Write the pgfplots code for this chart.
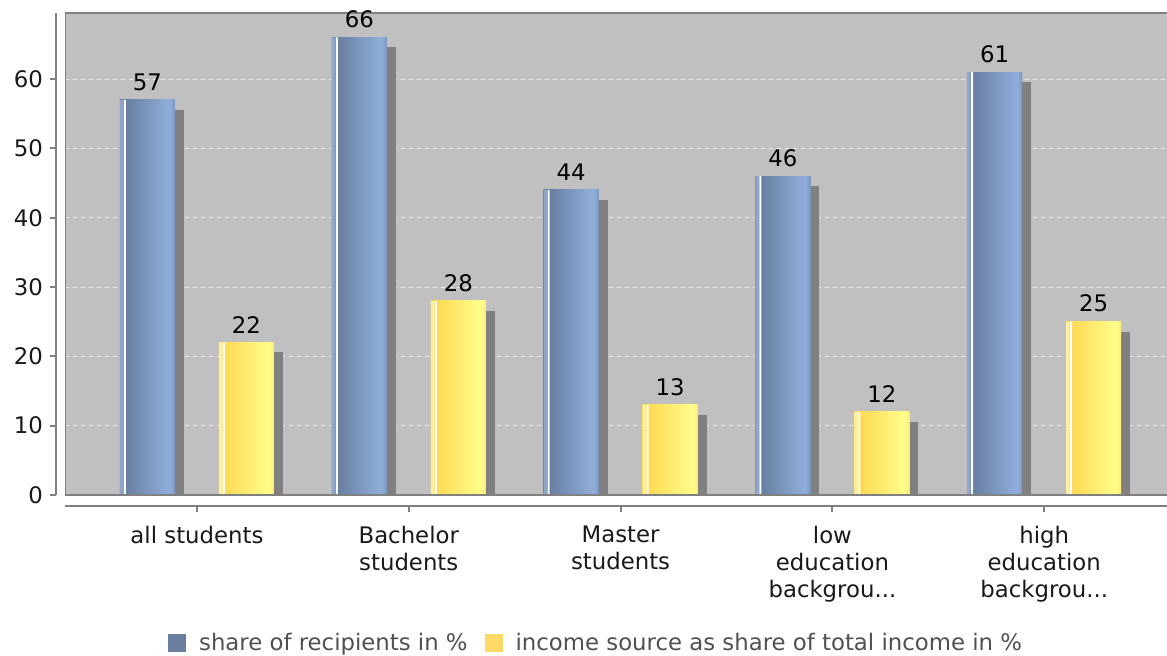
\documentclass[border=0pt]{standalone}
\usepackage{fontspec}
\setmainfont{DejaVu Sans}
\usepackage{pgfplots}
\usepackage{pgfplotstable}
\pgfplotsset{compat=1.18}
\definecolor{bgray}{HTML}{C0C0C0}
\definecolor{framec}{HTML}{808080}
\definecolor{shadowc}{HTML}{808080}
\definecolor{gridc}{HTML}{EAEAEA}
\definecolor{bdark}{HTML}{627899}
\definecolor{blight}{HTML}{8FACD8}
\definecolor{bedge}{HTML}{7A94BE}
\definecolor{bstrip}{HTML}{90A6C8}
\definecolor{ydark}{HTML}{FFD54C}
\definecolor{ylight}{HTML}{FFFB88}
\definecolor{yedge}{HTML}{FFEA70}
\definecolor{ystrip}{HTML}{FFEFA0}
\definecolor{legblue}{HTML}{6A7FA0}
\definecolor{legyellow}{HTML}{FFD966}
\definecolor{legtext}{HTML}{505050}
\pgfdeclarehorizontalshading{bluebar}{100bp}{color(0bp)=(bdark); color(25bp)=(bdark); color(68bp)=(blight); color(71bp)=(blight); color(75bp)=(bedge); color(100bp)=(bedge)}
\pgfdeclarehorizontalshading{yellowbar}{100bp}{color(0bp)=(ydark); color(25bp)=(ydark); color(68bp)=(ylight); color(71bp)=(ylight); color(75bp)=(yedge); color(100bp)=(yedge)}
\pgfplotstableread{
x recip income
0 57 22
1 66 28
2 44 13
3 46 12
4 61 25
}\datatable
\begin{document}
\begin{tikzpicture}
\useasboundingbox (0,0) rectangle (583.5pt,327.5pt);
\begin{axis}[
  at={(32.5pt,80pt)}, anchor=south west,
  scale only axis, width=552.5pt, height=241.25pt,
  xmin=-0.623, xmax=4.594, ymin=0, ymax=69.6,
  axis x line=bottom, axis y line=left,
  axis line style={-, draw=framec, line width=1pt},
  axis x line shift=5.5pt, axis y line shift=4.5pt,
  axis background/.style={fill=bgray},
  font=\fontsize{11.4}{13.5}\selectfont,
  /pgf/number format/assume math mode=true,
  grid style={gridc, dash pattern=on 2pt off 2pt, line width=0.5pt},
  ytick={0,10,...,60},
  extra y ticks={10,20,...,60}, extra y tick labels={},
  extra y tick style={grid=major, tick style={draw=none}},
  xtick={0,1,2,3,4},
  xticklabels={all students,{Bachelor\\students},{Master\\students},{low\\education\\backgrou.{}.{}.},{high\\education\\backgrou.{}.{}.}},
  xticklabel style={align=center, text=black!90, yshift=-3.5pt},
  yticklabel style={text=black!90},
  tick align=outside, major tick length=3pt,
  tick style={draw=framec, line width=1pt},
  legend style={at={(0.4815,-0.3067)}, anchor=center, draw=none, fill=none,
    legend columns=2, text=legtext, font=\fontsize{11.4}{13.5}\selectfont,
    /tikz/every even column/.append style={column sep=6.5pt},
    /tikz/every odd column/.append style={column sep=4.5pt}},
  legend image code/.code={\fill[#1, draw=none] (0pt,-4.5pt) rectangle (9pt,4.5pt);},
  nodes near coords style={font=\fontsize{11.4}{13.5}\selectfont, text=black, yshift=1.2pt},
]
\pgfplotsinvokeforeach{0,1,2,3,4}{
% shadows
\addplot[ybar, bar width=27.5pt, bar shift=-20.25pt, fill=shadowc, draw=none, forget plot, restrict x to domain=#1:#1]
  table[x=x, y expr=\thisrow{recip}-1.44] {\datatable};
\addplot[ybar, bar width=27.5pt, bar shift=29.25pt, fill=shadowc, draw=none, forget plot, restrict x to domain=#1:#1]
  table[x=x, y expr=\thisrow{income}-1.44] {\datatable};
% main bars
\addplot[ybar, bar width=27.5pt, bar shift=-24.75pt, draw=none, shade, shading=bluebar, forget plot, restrict x to domain=#1:#1,
  nodes near coords, point meta=explicit symbolic, every node near coord/.append style={xshift=-24.75pt}]
  table[x=x, y=recip, meta=recip] {\datatable};
\addplot[ybar, bar width=27.5pt, bar shift=24.75pt, draw=none, shade, shading=yellowbar, forget plot, restrict x to domain=#1:#1,
  nodes near coords, point meta=explicit symbolic, every node near coord/.append style={xshift=24.75pt}]
  table[x=x, y=income, meta=income] {\datatable};
}
% left light strips
\addplot[ybar, bar width=1.75pt, bar shift=-37.6pt, fill=bstrip, draw=none, forget plot]
  table[x=x, y=recip] {\datatable};
\addplot[ybar, bar width=1.75pt, bar shift=11.9pt, fill=ystrip, draw=none, forget plot]
  table[x=x, y=income] {\datatable};
% white highlights
\addplot[ybar, bar width=1pt, bar shift=-36pt, fill=white, draw=none, forget plot]
  table[x=x, y=recip] {\datatable};
\addplot[ybar, bar width=1pt, bar shift=13.5pt, fill=white, draw=none, forget plot]
  table[x=x, y=income] {\datatable};
\draw[framec, line width=1pt] (rel axis cs:0,0) rectangle (rel axis cs:1,1);
\addlegendimage{fill=legblue}
\addlegendentry{share of recipients in \%}
\addlegendimage{fill=legyellow}
\addlegendentry{income source as share of total income in \%}
\end{axis}
\end{tikzpicture}
\end{document}
